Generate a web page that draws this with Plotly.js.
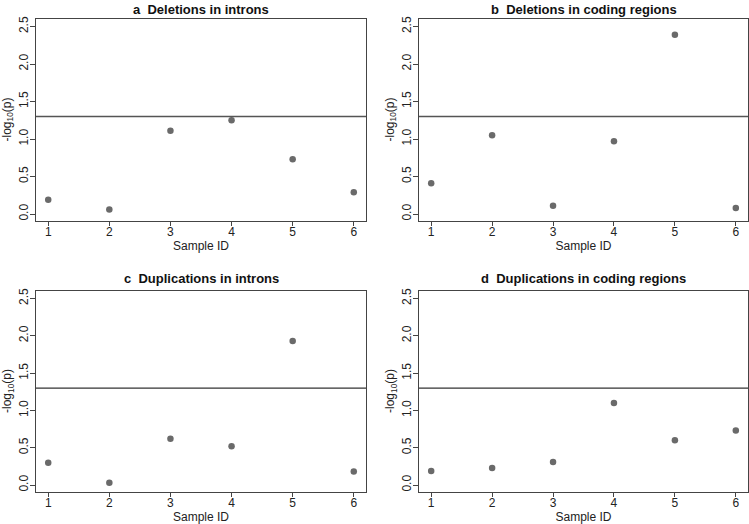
<!DOCTYPE html>
<html>
<head>
<meta charset="utf-8">
<script src="https://cdn.plot.ly/plotly-3.0.1.min.js"></script>
<style>html,body{margin:0;padding:0;background:#fff;}#chart{width:749px;height:524px;}</style>
</head>
<body>
<div id="chart"></div>
<script>
const sampleIds = [1, 2, 3, 4, 5, 6];
const delIntrons = [0.19, 0.06, 1.11, 1.25, 0.73, 0.29];
const delCoding = [0.41, 1.05, 0.11, 0.97, 2.39, 0.08];
const dupIntrons = [0.30, 0.03, 0.62, 0.52, 1.93, 0.18];
const dupCoding = [0.19, 0.23, 0.31, 1.10, 0.60, 0.73];
const threshold = 1.30;
const panelTitles = ["a  Deletions in introns", "b  Deletions in coding regions",
                     "c  Duplications in introns", "d  Duplications in coding regions"];
const series = [delIntrons, delCoding, dupIntrons, dupCoding];
const yTicks = [0, 0.5, 1, 1.5, 2, 2.5];
const yTickText = ["0.0", "0.5", "1.0", "1.5", "2.0", "2.5"];
const xTitle = "Sample ID";
const yTitle = "-log<sub>10</sub>(p)";

const FONT = "Liberation Sans, Arial, sans-serif";
const W = 749, H = 524;
const xDomains = [[36 / W, 366 / W], [419 / W, 748 / W]];
const yDomains = [[1 - 221 / H, 1 - 19 / H], [1 - 492 / H, 1 - 291 / H]];
const titleY = [1, 1 - 269 / H];

const traces = [];
const layout = {
  width: W, height: H,
  margin: {l: 0, r: 0, t: 0, b: 0},
  paper_bgcolor: "#fff", plot_bgcolor: "#fff",
  showlegend: false,
  font: {family: FONT, size: 12, color: "#222"},
  annotations: [], shapes: []
};

series.forEach((vals, i) => {
  const col = i % 2, row = Math.floor(i / 2);
  const n = i + 1;
  const xa = "x" + (n === 1 ? "" : n), ya = "y" + (n === 1 ? "" : n);
  traces.push({
    type: "scatter", mode: "markers",
    x: sampleIds, y: vals, xaxis: xa, yaxis: ya,
    marker: {color: "#6a6a6a", size: 6.5},
    hoverinfo: "x+y"
  });
  const xk = "xaxis" + (n === 1 ? "" : n), yk = "yaxis" + (n === 1 ? "" : n);
  layout[xk] = {
    domain: xDomains[col], anchor: ya, range: [0.8, 6.2],
    tickvals: sampleIds, ticks: "outside", ticklen: 4, tickcolor: "#444",
    ticklabelstandoff: -4,
    showline: true, linecolor: "#444", linewidth: 1, mirror: true,
    showgrid: false, zeroline: false,
    tickfont: {family: FONT, size: 12, color: "#222"},
    title: {text: xTitle, font: {family: FONT, size: 12, color: "#222"}, standoff: 0}
  };
  layout[yk] = {
    domain: yDomains[row], anchor: xa, range: [-0.093, 2.6],
    tickvals: yTicks, ticktext: yTickText, tickangle: -90,
    ticks: "outside", ticklen: 5, tickcolor: "#444",
    ticklabelstandoff: -3,
    showline: true, linecolor: "#444", linewidth: 1, mirror: true,
    showgrid: false, zeroline: false,
    tickfont: {family: FONT, size: 12, color: "#222"}
  };
  layout.shapes.push({
    type: "line", xref: xa + " domain", yref: ya,
    x0: 0, x1: 1, y0: threshold, y1: threshold,
    line: {color: row === 0 ? "#555" : "#333", width: 1.3}
  });
  layout.annotations.push({
    text: "<b>" + panelTitles[i] + "</b>",
    xref: "paper", yref: "paper",
    x: (xDomains[col][0] + xDomains[col][1]) / 2,
    y: titleY[row],
    xanchor: "center", yanchor: "top", showarrow: false,
    font: {family: FONT, size: 13, color: "#111"}
  });
  layout.annotations.push({
    text: yTitle, textangle: -90,
    xref: "paper", yref: ya + " domain",
    x: (xDomains[col][0] * W - 28.5) / W, y: 0.5,
    xanchor: "center", yanchor: "middle", showarrow: false,
    font: {family: FONT, size: 12, color: "#222"}
  });
});

Plotly.newPlot("chart", traces, layout, {displayModeBar: false, staticPlot: true});
</script>
</body>
</html>
